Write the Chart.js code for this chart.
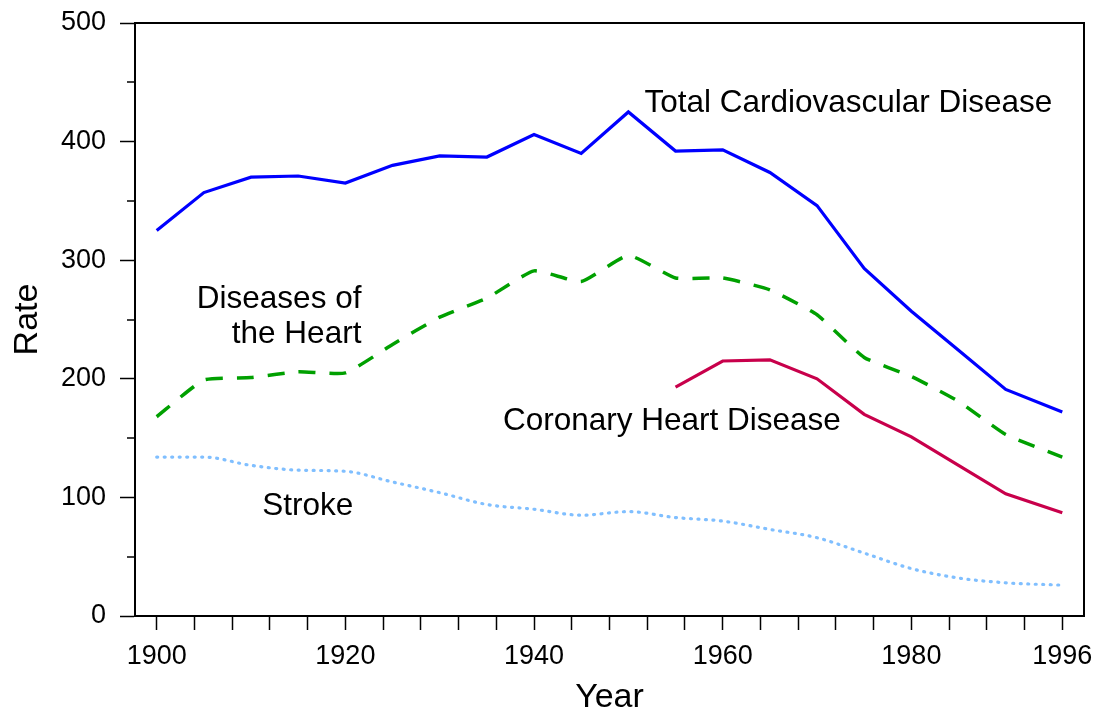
<!DOCTYPE html>
<html><head><meta charset="utf-8">
<script src="https://cdn.jsdelivr.net/npm/chart.js@4"></script>
<style>html,body{margin:0;padding:0;background:#fff}canvas{display:block}</style>
</head><body>
<canvas id="c" width="1096" height="710"></canvas>
<script>
// ---- data ----
const years = [1900,1905,1910,1915,1920,1925,1930,1935,1940,1945,1950,1955,1960,1965,1970,1975,1980,1985,1990,1996];
const totalCVD = [325,357,370,371,365,380,388,387,406,390,425,392,393,374,346,293,257,224,191,172];
const heartDiseases = [168,199,201,206,205,229,252,268,291,282,304,285,285,275,254,218,202,181,153,134];
const stroke = [134,134,127,123,122,113,104,94,90,85,88,83,80,73,66,53,40,32,28,26];
const chdYears = [1955,1960,1965,1970,1975,1980,1985,1990,1996];
const chd = [193,215,216,200,170,151,127,103,87];
const xTickValues = [1900,1904,1908,1912,1916,1920,1924,1928,1932,1936,1940,1944,1948,1952,1956,1960,1964,1968,1972,1976,1980,1984,1988,1992,1996];
const xTickLabels = [1900,1920,1940,1960,1980,1996];
const yMajorTicks = [0,100,200,300,400,500];
const yMinorTicks = [50,150,250,350,450];
const notes = [
  {text:'Total Cardiovascular Disease', year:1951.7, value:425, align:'left'},
  {text:'Diseases of', year:1921.7, value:260, align:'right'},
  {text:'the Heart', year:1921.7, value:230, align:'right'},
  {text:'Coronary Heart Disease', year:1936.7, value:157, align:'left'},
  {text:'Stroke', year:1911.2, value:85, align:'left'}
];

const FAM = '"Liberation Sans", Arial, Helvetica, sans-serif';
const XMIN = 1897.7, XMAX = 1998.3;

const pts = (xs, ys) => xs.map((v,i)=>({x:v, y:ys[i]}));

const decor = {
  id:'decor',
  afterDraw(chart){
    const {ctx, scales:{x, y}} = chart;
    ctx.save();
    ctx.strokeStyle = '#000'; ctx.lineWidth = 1.5;
    yMinorTicks.forEach(v=>{
      const py = Math.round(y.getPixelForValue(v));
      ctx.beginPath(); ctx.moveTo(y.right-8, py); ctx.lineTo(y.right, py); ctx.stroke();
    });
    ctx.fillStyle = '#000';
    ctx.font = '31.5px ' + FAM;
    ctx.textBaseline = 'alphabetic';
    notes.forEach(n=>{
      ctx.textAlign = n.align;
      ctx.fillText(n.text, x.getPixelForValue(n.year), y.getPixelForValue(n.value));
    });
    ctx.restore();
  }
};

new Chart(document.getElementById('c'), {
  type:'line',
  data:{
    datasets:[
      {label:'Total Cardiovascular Disease', data:pts(years,totalCVD), borderColor:'#0000ff', borderWidth:3.2, tension:0},
      {label:'Diseases of the Heart', data:pts(years,heartDiseases), borderColor:'#00a000', borderWidth:3.5, borderDash:[17,14], tension:0.15},
      {label:'Coronary Heart Disease', data:pts(chdYears,chd), borderColor:'#c8004b', borderWidth:3.2, tension:0},
      {label:'Stroke', data:pts(years,stroke), borderColor:'#80bfff', borderWidth:3.2, borderDash:[1,6.5], borderCapStyle:'round', cubicInterpolationMode:'monotone'}
    ]
  },
  options:{
    responsive:false, animation:false,
    layout:{padding:{left:0, right:12, top:23, bottom:0}},
    elements:{point:{radius:0}},
    plugins:{legend:{display:false}, tooltip:{enabled:false}},
    scales:{
      x:{
        type:'linear', position:'bottom', min:XMIN, max:XMAX,
        afterBuildTicks: s => { s.ticks = xTickValues.map(v=>({value:v})); },
        ticks:{autoSkip:false, maxRotation:0, padding:10, color:'#000', font:{size:27, family:FAM},
          callback: v => xTickLabels.includes(v) ? String(v) : ''},
        grid:{drawOnChartArea:false, drawTicks:true, tickLength:14, tickColor:'#000', tickWidth:1.5},
        border:{display:true, color:'#000', width:2},
        title:{display:true, text:'Year', color:'#000', font:{size:34, family:FAM, lineHeight:0.7}, padding:0},
        afterFit: s => { s.height = 94; s.paddingLeft = 0; s.paddingRight = 0; }
      },
      y:{
        type:'linear', position:'left', min:0, max:500,
        afterBuildTicks: s => { s.ticks = yMajorTicks.map(v=>({value:v})); },
        ticks:{padding:14, color:'#000', font:{size:27, family:FAM}},
        grid:{drawOnChartArea:false, drawTicks:true, tickLength:15, tickColor:'#000', tickWidth:1.5},
        border:{display:true, color:'#000', width:2},
        title:{display:true, text:'Rate', color:'#000', font:{size:34, family:FAM, lineHeight:1}, padding:{top:11, bottom:0}},
        afterFit: s => { s.width = 135; s.paddingTop = 0; s.paddingBottom = 0; }
      },
      x2:{
        type:'linear', position:'top', min:XMIN, max:XMAX,
        ticks:{display:false}, grid:{drawOnChartArea:false, drawTicks:false},
        border:{display:true, color:'#000', width:2},
        afterFit: s => { s.height = 0; s.paddingLeft = 0; s.paddingRight = 0; }
      },
      y2:{
        type:'linear', position:'right', min:0, max:500,
        ticks:{display:false}, grid:{drawOnChartArea:false, drawTicks:false},
        border:{display:true, color:'#000', width:2},
        afterFit: s => { s.width = 0; s.paddingTop = 0; s.paddingBottom = 0; }
      }
    }
  },
  plugins:[decor]
});
</script>
</body></html>
